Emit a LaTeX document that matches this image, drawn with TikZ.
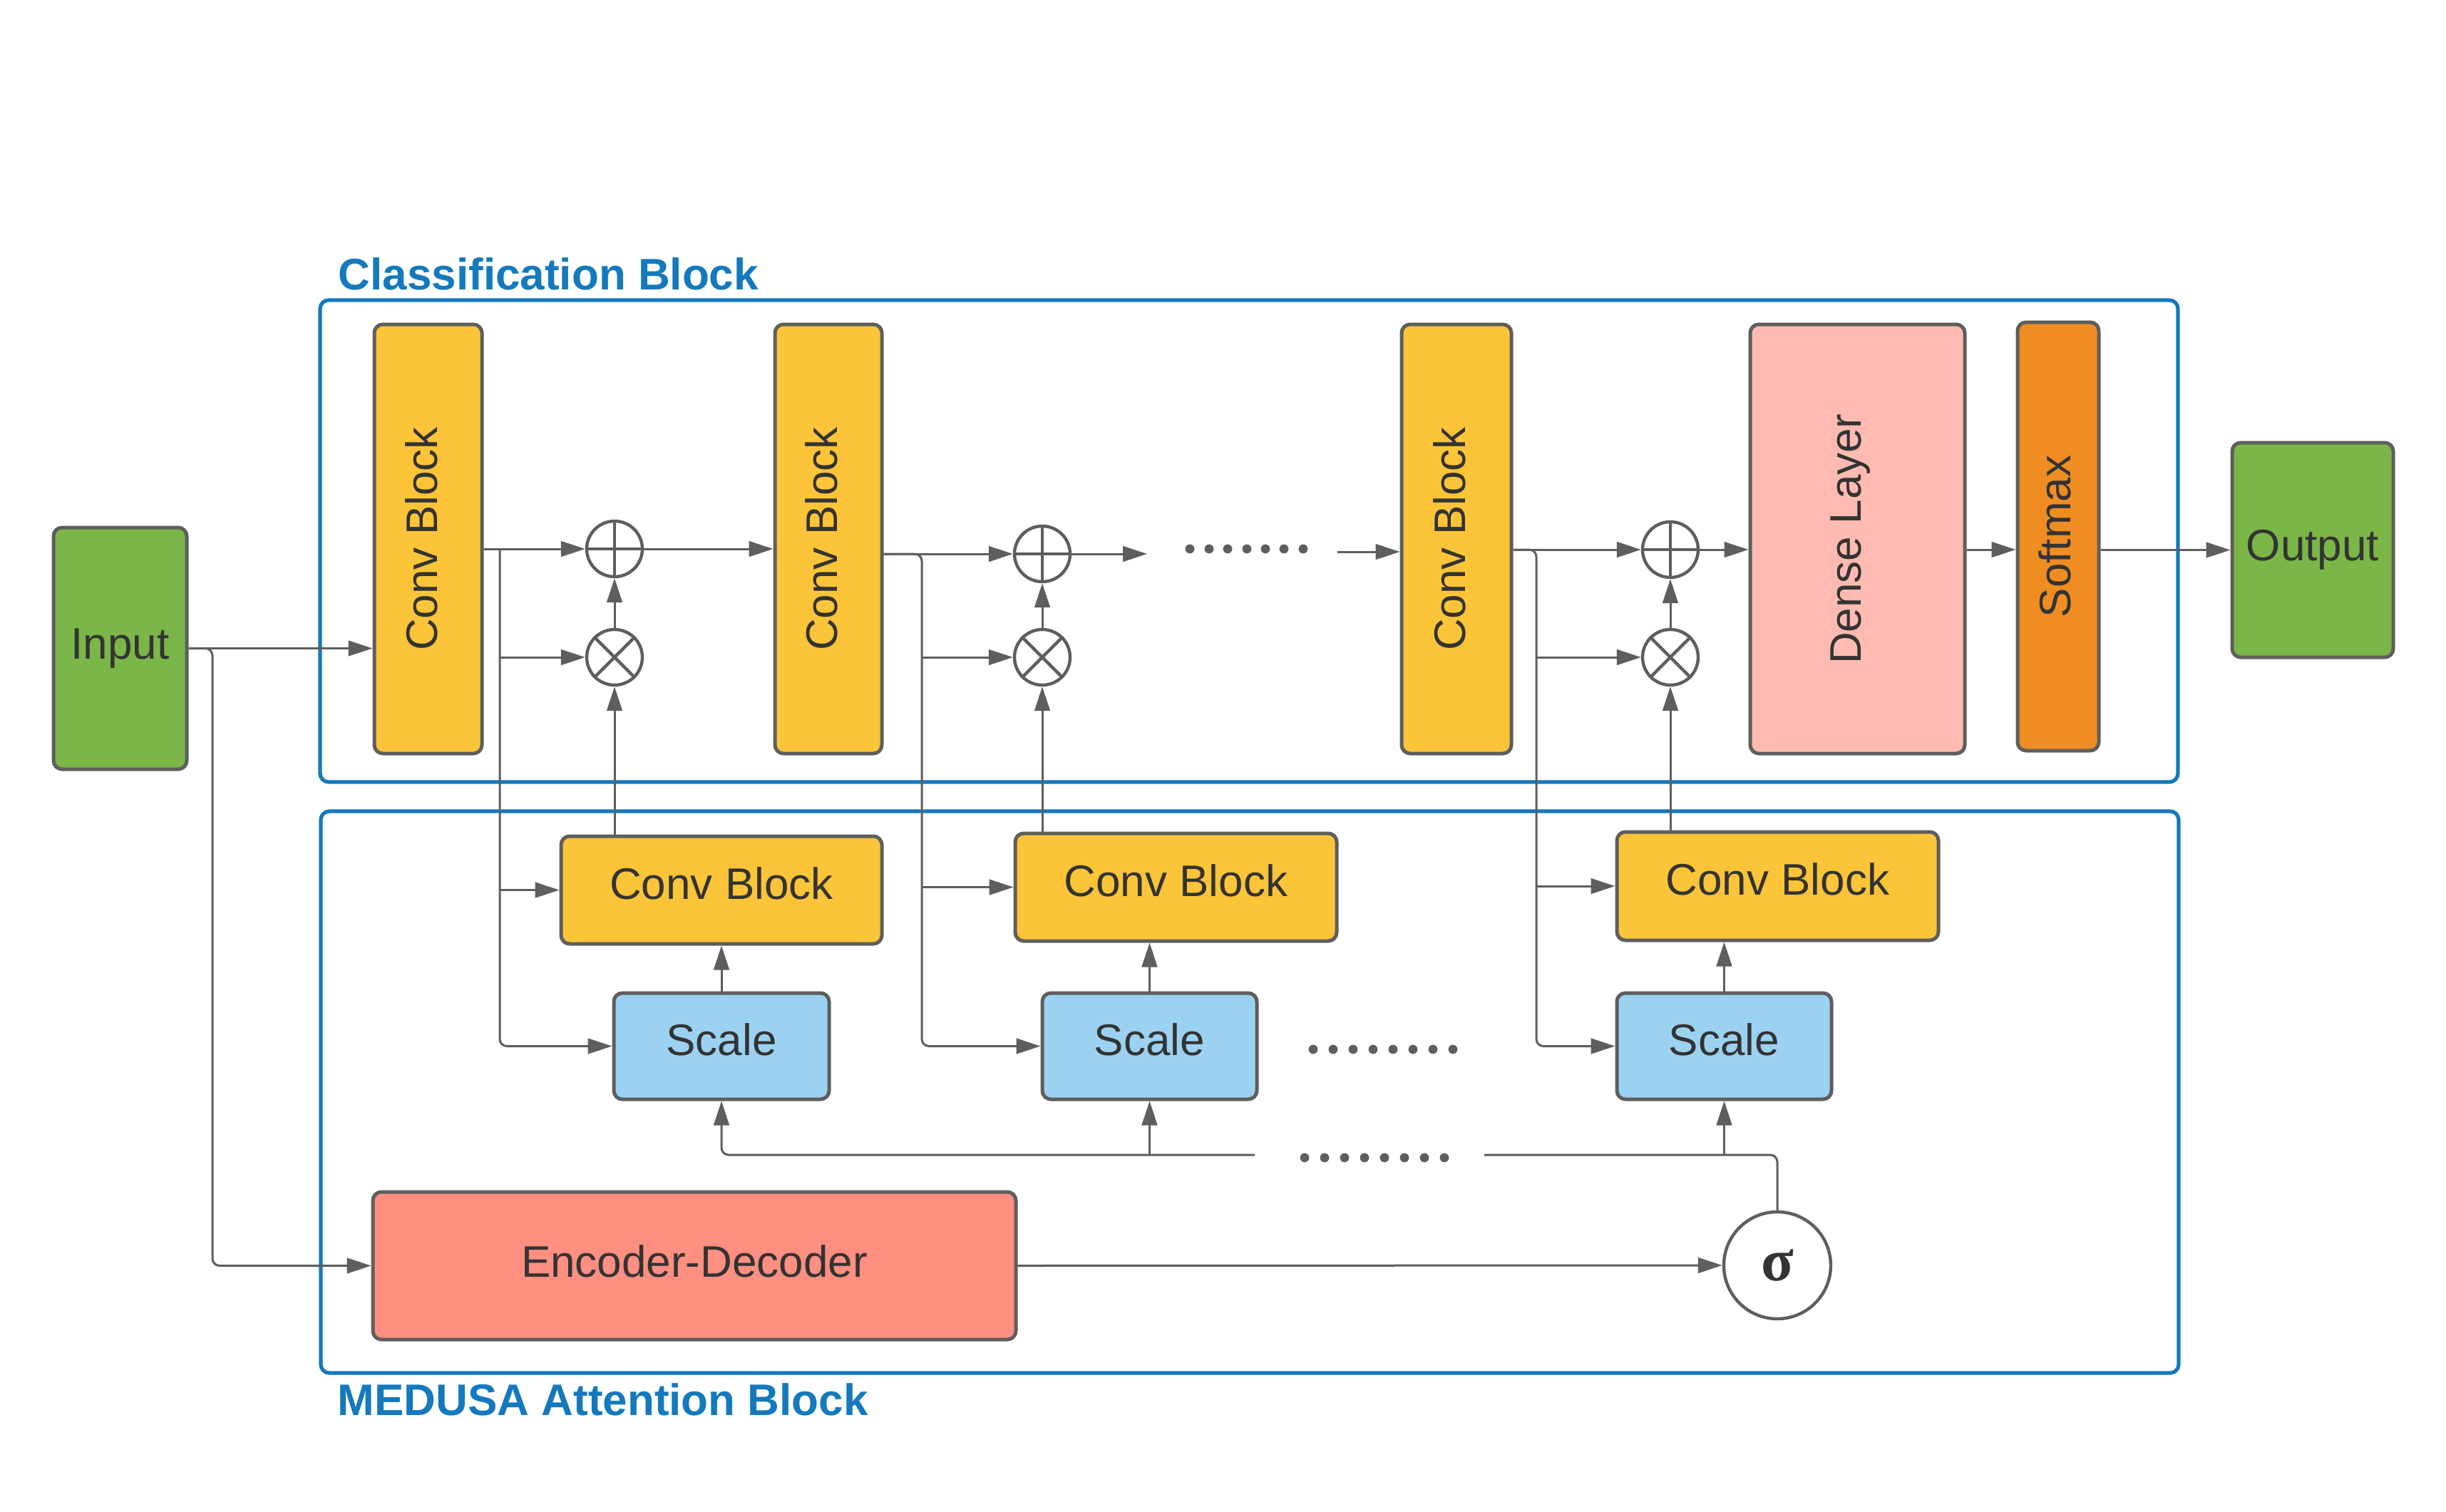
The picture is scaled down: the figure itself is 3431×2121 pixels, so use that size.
\documentclass[tikz,border=0pt]{standalone}
\usepackage{fontspec}
\setmainfont{Liberation Sans}
\newfontfamily\sigfont{Liberation Serif}
\usepackage{graphicx}
\usetikzlibrary{arrows.meta,fit,calc}
\definecolor{lgray}{HTML}{5E5E5E}
\definecolor{tgray}{HTML}{333333}
\definecolor{fblue}{HTML}{1479BD}
\definecolor{cyell}{HTML}{FCC438}
\definecolor{cgreen}{HTML}{7AB648}
\definecolor{corange}{HTML}{EF8D22}
\definecolor{cpink}{HTML}{FFBBB1}
\definecolor{csalmon}{HTML}{FF8F80}
\definecolor{cblue}{HTML}{9BD2F2}
\begin{document}
\begin{tikzpicture}[x=0.25pt,y=-0.25pt,
  blk/.style={draw=lgray, line width=1.25pt, rounded corners=3pt, inner sep=0pt},
  yel/.style={blk, fill=cyell},
  grn/.style={blk, fill=cgreen},
  blu/.style={blk, fill=cblue},
  lbl/.style={text=tgray, font=\fontsize{15.5}{18}\selectfont, inner sep=0pt},
  vlbl/.style={lbl, rotate=90, yshift=2.4pt},
  hlbl/.style={lbl, yshift=2.4pt},
  frm/.style={draw=fblue, line width=1.3pt, rounded corners=3pt, inner sep=0pt},
  ttl/.style={text=fblue, font=\fontsize{15.5}{18}\selectfont\bfseries, anchor=base west, inner sep=0pt},
  opc/.style={circle, draw=lgray, line width=1.1pt, minimum size=19.5pt, inner sep=0pt, fill=white},
  conn/.style={draw=lgray, line width=0.75pt},
  arr/.style={conn, -{Triangle[length=8.5pt,width=5.4pt]}},
  dotc/.style={fill=lgray}
]
\useasboundingbox (0,0) rectangle (3431,2121);
\fill[white] (0,0) rectangle (3431,2121);

% frames
\node[frm, fit={(449,421) (3055,1097)}] (cls) {};
\node[frm, fit={(450,1138) (3056,1926)}] (med) {};
\node[ttl] (clst) at (474,406) {Classification Block};
\node[ttl] (medt) at (473,1985) {MEDUSA Attention Block};

% classification row
\node[grn, fit={(75,740) (262,1079)}] (inp) {};
\node[yel, fit={(525,455) (676,1057)}] (c1) {};
\node[yel, fit={(1087,455) (1237,1057)}] (c2) {};
\node[yel, fit={(1966,455) (2120,1057)}] (c3) {};
\node[blk, fill=cpink, fit={(2455,455) (2756,1057)}] (dn) {};
\node[blk, fill=corange, fit={(2830,452) (2944,1053)}] (sm) {};
\node[grn, fit={(3131,621) (3357,922)}] (out) {};
\node[lbl] (inpl) at (inp) {Input};
\node[vlbl] (c1l) at (c1) {Conv Block};
\node[vlbl] (c2l) at (c2) {Conv Block};
\node[vlbl] (c3l) at (c3) {Conv Block};
\node[vlbl] (dnl) at (dn) {Dense Layer};
\node[vlbl, yshift=-1.2pt] (sml) at (sm) {Softmax};
\node[lbl] (outl) at (out) {Output};

\node[opc] (p1) at (862,770) {};
\node[opc] (t1) at (862,922) {};
\node[opc] (p2) at (1462,777) {};
\node[opc] (t2) at (1462,922) {};
\node[opc] (p3) at (2343,771) {};
\node[opc] (t3) at (2343,922) {};
\foreach \n in {p1,p2,p3}{
  \draw[conn, line width=1.1pt] (\n.north) -- (\n.south);
  \draw[conn, line width=1.1pt] (\n.west) -- (\n.east);
}
\foreach \n in {t1,t2,t3}{
  \draw[conn, line width=1.1pt] (\n.north east) -- (\n.south west);
  \draw[conn, line width=1.1pt] (\n.north west) -- (\n.south east);
}

% attention row
\node[yel, fit={(787,1173) (1237,1324)}] (ac1) {};
\node[yel, fit={(1424,1169) (1875,1320)}] (ac2) {};
\node[yel, fit={(2268,1167) (2719,1319)}] (ac3) {};
\node[blu, fit={(861,1393) (1163,1542)}] (sc1) {};
\node[blu, fit={(1462,1393) (1763,1542)}] (sc2) {};
\node[blu, fit={(2268,1393) (2569,1542)}] (sc3) {};
\node[blk, fill=csalmon, fit={(523,1672) (1425,1879)}] (enc) {};
\node[hlbl] (ac1l) at (ac1) {Conv Block};
\node[hlbl] (ac2l) at (ac2) {Conv Block};
\node[hlbl] (ac3l) at (ac3) {Conv Block};
\node[hlbl] (sc1l) at (sc1) {Scale};
\node[hlbl] (sc2l) at (sc2) {Scale};
\node[hlbl] (sc3l) at (sc3) {Scale};
\node[hlbl, yshift=-0.9pt] (encl) at (enc) {Encoder-Decoder};
\node[circle, draw=lgray, line width=1.1pt, fill=white, minimum size=37.5pt, inner sep=0pt, text=tgray,
      font=\sigfont\bfseries\fontsize{21}{24}\selectfont] (sig) at (2493,1775) {σ};

% input connectors
\coordinate (ib) at (298,0);
\draw[arr] (inp.east) -- (inp.east -| c1.west);
\draw[arr, rounded corners=2.5pt] (inp.east) -- (ib |- inp.east) -- (ib |- enc.west) -- (enc.west);

% stage 1
\coordinate (b1) at (701,770);
\draw[arr] (p1 -| c1.east) -- (p1.west);
\draw[arr, rounded corners=2.5pt] (b1) |- (sc1.west);
\draw[arr] (b1 |- t1) -- (t1.west);
\draw[arr] (b1 |- ac1) -- (ac1.west);
\draw[arr] (t1.north) -- (p1.south);
\draw[arr] (t1 |- ac1.north) -- (t1.south);
\draw[arr] (sc1.north) -- (ac1.south);
\draw[arr] (p1.east) -- (p1.east -| c2.west);

% stage 2
\coordinate (b2) at (1293,777);
\draw[arr] (p2 -| c2.east) -- (p2.west);
\draw[arr, rounded corners=2.5pt] (p2 -| c2.east) -- (b2) -- (b2 |- sc2.west) -- (sc2.west);
\draw[arr] (b2 |- t2) -- (t2.west);
\draw[arr] (b2 |- ac2) -- (ac2.west);
\draw[arr] (t2.north) -- (p2.south);
\draw[arr] (t2 |- ac2.north) -- (t2.south);
\draw[arr] (sc2.north) -- (sc2.north |- ac2.south);
\coordinate (d1s) at (1609,777);
\coordinate (d1e) at (1876,774);
\draw[arr] (p2.east) -- (d1s);
\draw[arr] (d1e) -- (d1e -| c3.west);

% stage 3
\coordinate (b3) at (2155,771);
\draw[arr] (p3 -| c3.east) -- (p3.west);
\draw[arr, rounded corners=2.5pt] (p3 -| c3.east) -- (b3) -- (b3 |- sc3.west) -- (sc3.west);
\draw[arr] (b3 |- t3) -- (t3.west);
\draw[arr] (b3 |- ac3) -- (ac3.west);
\draw[arr] (t3.north) -- (p3.south);
\draw[arr] (t3 |- ac3.north) -- (t3.south);
\draw[arr] (sc3.north) -- (sc3.north |- ac3.south);
\draw[arr] (p3.east) -- (p3.east -| dn.west);
\draw[arr] (dn.east |- p3) -- (sm.west |- p3);
\draw[arr] (sm.east |- out) -- (out.west);

% sigma bus
\coordinate (busL) at (1760,1620);
\coordinate (busR) at (2082,1620);
\draw[arr] (enc.east) -- (sig.west);
\draw[arr, rounded corners=2.5pt] (busL) -| (sc1.south);
\draw[arr] (sc2.south |- busL) -- (sc2.south);
\draw[conn, rounded corners=2.5pt] (sig.north) |- (busR);
\draw[arr] (sc3.south |- busR) -- (sc3.south);

% dots
\foreach \x in {1669,1696,1722,1749,1775,1801,1828} \fill[dotc] (\x,770) circle[radius=1.6pt];
\foreach \x in {1842,1870,1898,1926,1954,1982,2010,2038} \fill[dotc] (\x,1472) circle[radius=1.6pt];
\foreach \x in {1830,1858,1886,1914,1942,1970,1998,2026} \fill[dotc] (\x,1624) circle[radius=1.6pt];
\end{tikzpicture}
\end{document}
